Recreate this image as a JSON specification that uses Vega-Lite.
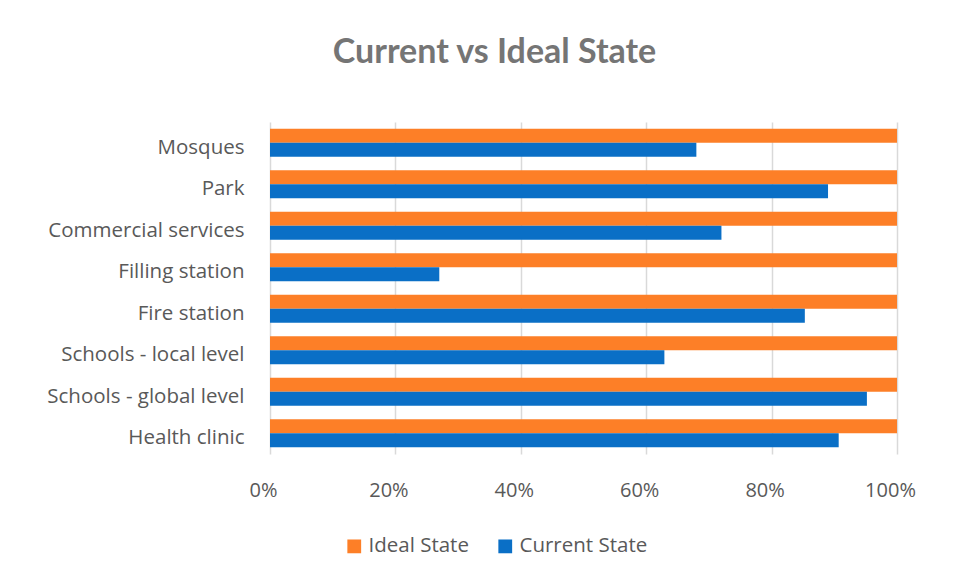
{
  "$schema": "https://vega.github.io/schema/vega-lite/v6.json",
  "width": 627,
  "height": 332,
  "autosize": {"type": "none"},
  "padding": {"left": 270, "top": 122, "right": 72, "bottom": 124},
  "background": "white",
  "title": {
    "text": "Current vs Ideal State",
    "font": "Lato",
    "fontSize": 34,
    "fontWeight": "bold",
    "color": "#757575",
    "anchor": "middle",
    "dx": -89,
    "offset": 52
  },
  "data": {
    "values": [
      {"facility": "Mosques", "series": "Ideal State", "value": 1.0},
      {"facility": "Mosques", "series": "Current State", "value": 0.68},
      {"facility": "Park", "series": "Ideal State", "value": 1.0},
      {"facility": "Park", "series": "Current State", "value": 0.89},
      {"facility": "Commercial services", "series": "Ideal State", "value": 1.0},
      {"facility": "Commercial services", "series": "Current State", "value": 0.72},
      {"facility": "Filling station", "series": "Ideal State", "value": 1.0},
      {"facility": "Filling station", "series": "Current State", "value": 0.27},
      {"facility": "Fire station", "series": "Ideal State", "value": 1.0},
      {"facility": "Fire station", "series": "Current State", "value": 0.853},
      {"facility": "Schools - local level", "series": "Ideal State", "value": 1.0},
      {"facility": "Schools - local level", "series": "Current State", "value": 0.629},
      {"facility": "Schools - global level", "series": "Ideal State", "value": 1.0},
      {"facility": "Schools - global level", "series": "Current State", "value": 0.952},
      {"facility": "Health clinic", "series": "Ideal State", "value": 1.0},
      {"facility": "Health clinic", "series": "Current State", "value": 0.907}
    ]
  },
  "mark": {"type": "bar"},
  "encoding": {
    "y": {
      "field": "facility",
      "type": "nominal",
      "sort": ["Mosques", "Park", "Commercial services", "Filling station", "Fire station", "Schools - local level", "Schools - global level", "Health clinic"],
      "scale": {"paddingInner": 0.32, "paddingOuter": 0.16},
      "axis": {
        "title": null,
        "domain": false,
        "ticks": false,
        "labelFont": "Open Sans",
        "labelFontSize": 20.5,
        "labelColor": "#595959",
        "labelPadding": 26,
        "labelOffset": 5,
        "labelLimit": 400
      }
    },
    "yOffset": {
      "field": "series",
      "type": "nominal",
      "sort": ["Ideal State", "Current State"],
      "scale": {"paddingInner": 0, "paddingOuter": 0}
    },
    "x": {
      "field": "value",
      "type": "quantitative",
      "scale": {"domain": [0, 1], "nice": false},
      "axis": {
        "title": null,
        "format": ".0%",
        "values": [0, 0.2, 0.4, 0.6, 0.8, 1.0],
        "domain": false,
        "ticks": false,
        "grid": true,
        "gridColor": "#d9d9d9",
        "gridWidth": 1.5,
        "labelFlush": false,
        "labelOffset": -7,
        "labelFont": "Open Sans",
        "labelFontSize": 20,
        "labelColor": "#595959",
        "labelPadding": 26
      }
    },
    "color": {
      "field": "series",
      "type": "nominal",
      "sort": ["Ideal State", "Current State"],
      "scale": {"domain": ["Ideal State", "Current State"], "range": ["#fd7f27", "#0a6fc6"]},
      "legend": {
        "title": null,
        "orient": "none",
        "direction": "horizontal",
        "legendX": 74,
        "legendY": 414,
        "symbolType": "square",
        "symbolSize": 190,
        "symbolStrokeWidth": 0,
        "labelFont": "Open Sans",
        "labelFontSize": 20.5,
        "labelColor": "#595959",
        "columnPadding": 26
      }
    }
  },
  "config": {"view": {"stroke": null}}
}
